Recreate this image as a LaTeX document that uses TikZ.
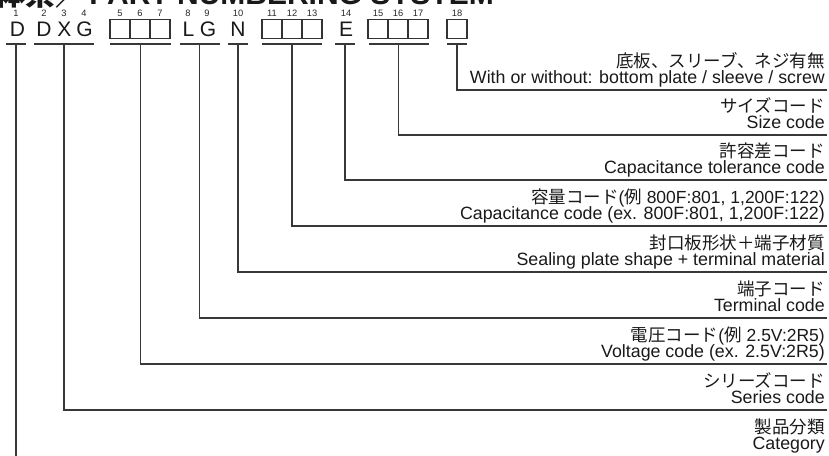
\documentclass[tikz,border=0pt]{standalone}
\usepackage{fontspec}
\setmainfont{Liberation Sans}
\newfontfamily\cjk{Noto Sans CJK JP}
\newcommand\latn[1]{{\rmfamily #1}}
\begin{document}
\begin{tikzpicture}[x=1pt,y=-1pt,
  num/.style={font=\fontsize{9.3}{10}\selectfont, anchor=base, inner sep=0, text=black!85},
  ch/.style={font=\fontsize{21}{24}\selectfont, anchor=base, inner sep=0, text=black!90},
  cell/.style={draw=black!80, line width=1.1pt, minimum width=20pt, minimum height=19pt, inner sep=0},
  barn/.style={fill=black!78, draw=none, inner sep=0, minimum height=2.6pt},
  lead/.style={line width=1.2pt, draw=black!78},
  jp/.style={font=\cjk\fontsize{17.5}{20}\selectfont, anchor=base east, inner sep=0, text=black!90},
  en/.style={font=\fontsize{17.8}{20}\selectfont, anchor=base east, inner sep=0, text=black!90}]
\useasboundingbox (0,0) rectangle (829,455);
% title (cut off at the top)
\node[anchor=base east, font=\bfseries\fontsize{30}{30}\selectfont, inner sep=0, text=black!90] (ttl) at (494,4.5) {PART NUMBERING SYSTEM};
\node[anchor=base east, font=\cjk\bfseries\fontsize{30}{30}\selectfont, inner sep=0, text=black!90] (ttlj) at ([xshift=-3pt,yshift=-1pt]ttl.base west) {品番体系／};
% digit numbers
\foreach \n/\x in {1/16,2/44,3/64,4/84,5/120,6/140,7/160,8/188,9/207,10/238,11/272,12/292,13/312,14/346,15/378,16/398,17/418,18/457}
  \node[num] (n\n) at (\x,16.8) {\n};
% letters
\node[ch] (c1) at (17.5,36.5) {D};
\node[ch] (c2) at (44,36.5) {D};
\node[ch] (c3) at (64.5,36.5) {X};
\node[ch] (c4) at (84.5,36.5) {G};
\node[ch] (c8) at (188.5,36.5) {L};
\node[ch] (c9) at (208,36.5) {G};
\node[ch] (c10) at (238,36.5) {N};
\node[ch] (c14) at (346,36.5) {E};
% boxes
\foreach \n/\x in {5/120,6/140,7/160,11/272,12/292,13/312,15/378,16/398,17/418,18/457}
  \node[cell] (k\n) at (\x,28.7) {};
% bars
\node[barn, minimum width=20pt] (b1) at (16,43.8) {};
\node[barn, minimum width=60pt] (b2) at (64,43.8) {};
\node[barn, minimum width=61pt] (b3) at (140.5,43.8) {};
\node[barn, minimum width=40pt] (b4) at (199.5,43.8) {};
\node[barn, minimum width=20pt] (b5) at (238,43.8) {};
\node[barn, minimum width=60pt] (b6) at (292,43.8) {};
\node[barn, minimum width=20pt] (b7) at (345,43.8) {};
\node[barn, minimum width=60pt] (b8) at (398.5,43.8) {};
\node[barn, minimum width=20pt] (b9) at (457,43.8) {};
% line ends
\coordinate (e9) at (827,90);
\coordinate (e8) at (827,135);
\coordinate (e7) at (827,180);
\coordinate (e6) at (827,226);
\coordinate (e5) at (827,272);
\coordinate (e4) at (827,318);
\coordinate (e3) at (827,364);
\coordinate (e2) at (827,410);
\coordinate (e1) at (16,460);
% leaders
\draw[lead] (b9.south) |- (e9);
\draw[lead] (b8.south) |- (e8);
\draw[lead] (b7.south) |- (e7);
\draw[lead] (b6.south) |- (e6);
\draw[lead] (b5.south) |- (e5);
\draw[lead] (b4.south) |- (e4);
\draw[lead] (b3.south) |- (e3);
\draw[lead] (b2.south) |- (e2);
\draw[lead] (b1.south) -- (e1);
% labels
\node[jp] (j9) at (825,67) {底板、スリーブ、ネジ有無};
\node[en] (t9) at (825,83.5) {With or without: bottom plate / sleeve / screw};
\node[jp] (j8) at (825,112) {サイズコード};
\node[en] (t8) at (825,128.5) {Size code};
\node[jp] (j7) at (825,157) {許容差コード};
\node[en] (t7) at (825,173.5) {Capacitance tolerance code};
\node[jp] (j6) at (825,203) {容量コード\latn{(}例\latn{ 800F:801, 1,200F:122)}};
\node[en] (t6) at (825,219.5) {Capacitance code (ex. 800F:801, 1,200F:122)};
\node[jp] (j5) at (825,249) {封口板形状＋端子材質};
\node[en] (t5) at (825,265.5) {Sealing plate shape + terminal material};
\node[jp] (j4) at (825,295) {端子コード};
\node[en] (t4) at (825,311.5) {Terminal code};
\node[jp] (j3) at (825,341) {電圧コード\latn{(}例\latn{ 2.5V:2R5)}};
\node[en] (t3) at (825,357.5) {Voltage code (ex. 2.5V:2R5)};
\node[jp] (j2) at (825,387) {シリーズコード};
\node[en] (t2) at (825,403.5) {Series code};
\node[jp] (j1) at (825,433) {製品分類};
\node[en] (t1) at (825,449.5) {Category};
\end{tikzpicture}
\end{document}
